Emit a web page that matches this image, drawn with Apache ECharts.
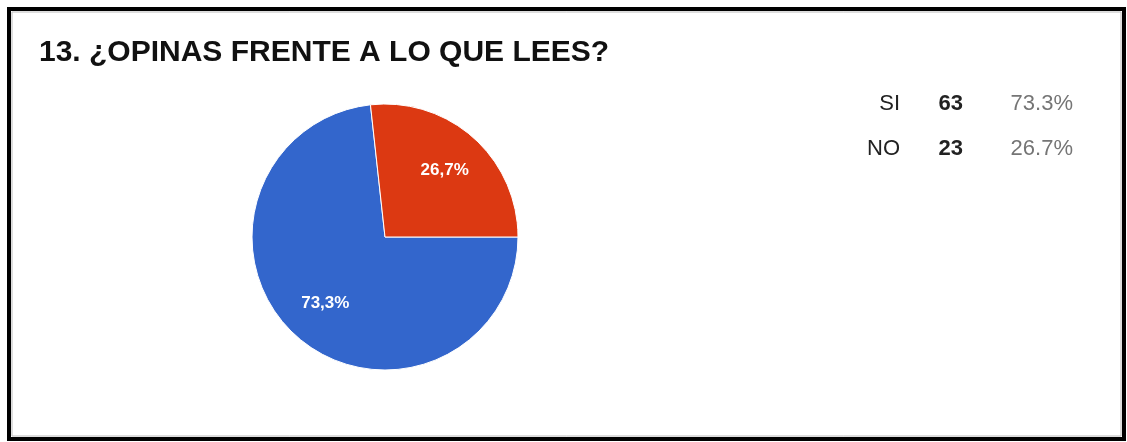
<!DOCTYPE html>
<html>
<head>
<meta charset="utf-8">
<script src="https://cdn.jsdelivr.net/npm/echarts@6/dist/echarts.min.js"></script>
<style>
html,body{margin:0;padding:0;background:#fff;}
#chart{width:1127px;height:442px;}
</style>
</head>
<body>
<div id="chart"></div>
<script>
// datos de la pregunta 13
var titleText='13. ¿OPINAS FRENTE A LO QUE LEES?';
var categories=['SI','NO'];
var counts=[63,23];
var colors=['#3366cc','#dc3912'];

var total=counts.reduce(function(a,b){return a+b;},0);
var pieData=categories.map(function(name,i){
    return {name:name,value:counts[i],itemStyle:{color:colors[i]}};
});

function pct(v,sep){
    return (v/total*100).toFixed(1).replace('.',sep)+'%';
}

var myChart=echarts.init(document.getElementById('chart'));
var option={
    animation:false,
    title:{
        text:titleText,
        left:39,
        top:38,
        padding:0,
        textStyle:{
            fontFamily:'Liberation Sans, Arial, sans-serif',
            fontSize:30,
            fontWeight:'bold',
            color:'#111',
        },
    },
    legend:{
        orient:'vertical',
        left:840,
        top:88,
        icon:'none',
        itemWidth:0,
        itemGap:23,
        selectedMode:false,
        data:categories,
        formatter:function(name){
            var i=categories.indexOf(name);
            return '{n|'+name+'}{v|'+counts[i]+'}{p|'+pct(counts[i],'.')+'}';
        },
        textStyle:{
            fontFamily:'Liberation Sans, Arial, sans-serif',
            rich:{
                n:{width:50,align:'right',fontSize:22,color:'#222'},
                v:{width:63,align:'right',fontSize:22,fontWeight:'bold',color:'#222'},
                p:{width:110,align:'right',fontSize:22,color:'#757575'},
            },
        },
    },
    graphic:[
        {
            type:'rect',
            shape:{x:9,y:9,width:1115,height:430},
            style:{fill:null,stroke:'#000',lineWidth:4},
            silent:true,
        },
        {
            type:'rect',
            shape:{x:12,y:12,width:1109,height:424},
            style:{fill:null,stroke:'#bbb',lineWidth:1},
            silent:true,
        },
    ],
    series:[
        {
            type:'pie',
            center:[385,237],
            radius:[0,133],
            startAngle:0,
            clockwise:true,
            label:{show:false},
            labelLine:{show:false},
            itemStyle:{borderColor:'#fff',borderWidth:1},
            emphasis:{disabled:true},
            data:pieData,
        },
        {
            // solo etiquetas, un poco más afuera del centro
            type:'pie',
            center:[385,237],
            radius:[40,133],
            startAngle:0,
            clockwise:true,
            silent:true,
            itemStyle:{color:'transparent'},
            labelLine:{show:false},
            label:{
                show:true,
                position:'inside',
                fontFamily:'Liberation Sans, Arial, sans-serif',
                fontSize:17,
                fontWeight:'bold',
                color:'#fff',
                formatter:function(p){return pct(p.value,',');},
            },
            data:categories.map(function(name,i){return {name:name,value:counts[i]};}),
        },
    ],
};
myChart.setOption(option);
</script>
</body>
</html>
